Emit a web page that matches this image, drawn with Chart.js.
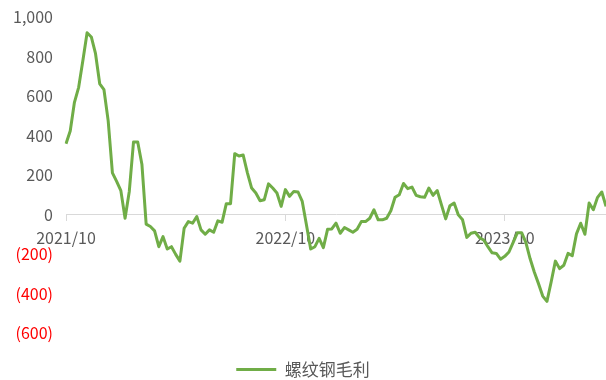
<!DOCTYPE html>
<html>
<head>
<meta charset="utf-8">
<script src="https://cdn.jsdelivr.net/npm/chart.js@4/dist/chart.umd.min.js"></script>
<style>
  html, body { margin: 0; padding: 0; background: #fff; }
  #wrap { width: 606px; height: 380px; }
</style>
</head>
<body>
<div id="wrap"><canvas id="marginChart"></canvas></div>
<script>
// weekly rebar gross margin, yuan/ton
const seriesName = "螺纹钢毛利";
const margin = [
  358, 423, 568, 644, 780, 920, 899, 814, 661, 632,
  474, 211, 168, 121, -19, 117, 367, 367, 253, -49,
  -61, -83, -163, -112, -175, -163, -202, -236, -70, -36,
  -44, -10, -78, -100, -78, -90, -32, -39, 55, 55,
  308, 296, 301, 211, 134, 109, 70, 75, 155, 134,
  109, 41, 126, 92, 117, 114, 66, -53, -175, -163,
  -121, -168, -75, -73, -44, -95, -66, -78, -90, -75,
  -36, -36, -19, 24, -27, -27, -19, 19, 87, 100,
  157, 131, 139, 97, 90, 87, 134, 97, 121, 49,
  -22, 44, 58, -2, -27, -116, -95, -90, -117, -129,
  -163, -194, -197, -226, -212, -190, -141, -92, -92, -141,
  -223, -291, -350, -413, -440, -342, -236, -274, -257, -197,
  -209, -98, -44, -100, 58, 24, 87, 114, 41
];
const tickIndex = [0, 52, 104];
const tickLabels = ["2021/10", "2022/10", "2023/10"];
const yTicks = { min: -600, max: 1000, step: 200 };

// one category per week, starting 2021-10-08
const weeks = [];
const start = new Date(2021, 9, 8);
for (let i = 0; i < margin.length; i++) {
  const d = new Date(start.getTime() + i * 7 * 86400000);
  weeks.push(d.getFullYear() + "/" + (d.getMonth() + 1) + "/" + d.getDate());
}

const green = "#70AD47";
const grey = "#595959";
const font = "'Noto Sans CJK SC', 'Liberation Sans', sans-serif";

function fmt(v) {
  return Math.abs(v).toLocaleString("en-US");
}

new Chart("marginChart", {
  type: "line",
  data: {
    labels: weeks,
    datasets: [{
      label: seriesName,
      data: margin,
      borderColor: green,
      backgroundColor: green,
      borderWidth: 3,
      pointRadius: 0,
      tension: 0,
      borderJoinStyle: "round"
    }]
  },
  options: {
    responsive: true,
    maintainAspectRatio: false,
    animation: false,
    layout: { padding: { top: 17, right: 0, bottom: -8, left: 0 } },
    plugins: {
      tooltip: { enabled: false },
      legend: {
        position: "bottom",
        labels: {
          color: grey,
          font: { family: font, size: 17 },
          boxWidth: 40,
          boxHeight: 3,
          padding: 28,
          generateLabels: function(chart) {
            const items = Chart.defaults.plugins.legend.labels.generateLabels(chart);
            items.forEach(function(it) { it.lineWidth = 0; it.fillStyle = green; });
            return items;
          }
        }
      }
    },
    scales: {
      x: {
        position: { y: 0 },
        offset: false,
        // the axis sits on the zero line, don't let it pad the plot area
        afterFit: function(scale) { scale.paddingLeft = 0; scale.paddingRight = 0; },
        grid: {
          drawOnChartArea: false,
          drawTicks: true,
          tickLength: 6,
          color: function(ctx) {
            return tickIndex.includes(ctx.index) ? "#D9D9D9" : "rgba(0,0,0,0)";
          }
        },
        border: { display: true, color: "#D9D9D9", width: 1 },
        ticks: {
          autoSkip: false,
          maxRotation: 0,
          minRotation: 0,
          padding: 8,
          color: grey,
          font: { family: font, size: 16 },
          callback: function(val, i) {
            const k = tickIndex.indexOf(i);
            return k >= 0 ? tickLabels[k] : "";
          }
        }
      },
      y: {
        min: yTicks.min,
        max: yTicks.max,
        grid: { display: false, drawTicks: false },
        border: { display: false },
        afterFit: function(scale) {
          scale.width = 66;
          scale.paddingTop = 0;
          scale.paddingBottom = 0;
        },
        ticks: {
          stepSize: yTicks.step,
          padding: 13,
          font: { family: font, size: 16 },
          color: function(ctx) {
            return ctx.tick && ctx.tick.value < 0 ? "#FF0000" : grey;
          },
          callback: function(v) {
            return v < 0 ? "(" + fmt(v) + ")" : fmt(v);
          }
        }
      }
    }
  }
});
</script>
</body>
</html>
